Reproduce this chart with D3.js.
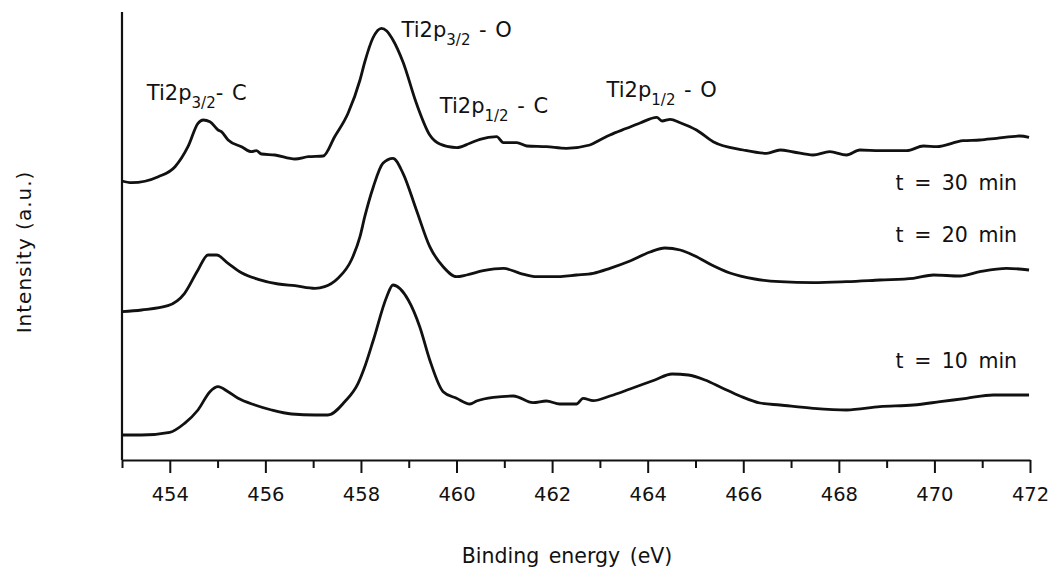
<!DOCTYPE html>
<html>
<head>
<meta charset="utf-8">
<script src="https://cdn.jsdelivr.net/npm/d3@7/dist/d3.min.js"></script>
<style>
  html, body { margin: 0; padding: 0; background: #fff; }
  svg text { font-family: "DejaVu Sans", Verdana, sans-serif; fill: #111; }
</style>
</head>
<body>
<svg id="chart" width="1057" height="575"></svg>
<script>
// Ti 2p XPS spectra after three treatment times (stacked, arbitrary intensity)
const energy30 = [453.00,453.20,453.76,454.11,454.38,454.59,454.70,454.84,455.01,455.08,455.22,455.50,455.71,455.81,455.92,456.20,456.62,456.90,457.21,457.45,457.73,457.98,458.08,458.25,458.43,458.54,458.67,458.88,459.16,459.44,459.65,460.00,460.28,460.49,460.84,460.98,461.26,461.47,461.88,462.30,462.79,463.00,463.21,463.56,463.84,464.19,464.30,464.47,464.68,465.02,465.37,466.00,466.49,466.77,467.05,467.46,467.81,468.16,468.44,468.86,469.42,469.77,470.05,470.60,470.95,471.30,471.79,471.98];
const counts30 = [279,277.3,283.3,293.3,313.3,336.7,340,338.3,330,328.3,320,313.3,308.3,309.3,306,305,301,303.3,304,323.3,346.7,380,398,422,431.7,429,420,398,356.7,325,316,312.3,316.7,320.7,323.3,317.3,317.3,314,313.3,311.7,315,320,325,331.7,337,342.7,339,340.7,337.3,330,318.3,310,306.7,310,308,305,308.3,305,310,309.3,309.3,314,313.3,319.3,320,321.7,324,322.7];

const energy20 = [453.00,453.41,453.96,454.31,454.59,454.80,454.98,455.22,455.50,455.85,456.27,456.62,457.04,457.24,457.52,457.80,457.98,458.08,458.26,458.46,458.67,458.88,459.16,459.44,459.72,460.00,460.21,460.56,460.98,461.33,461.68,462.02,462.51,462.86,463.21,463.63,464.05,464.36,464.68,464.99,465.34,465.72,466.24,466.77,467.46,468.16,468.86,469.56,469.98,470.53,470.95,471.51,471.98];
const counts20 = [148.3,150,154.3,166.7,190,205,205,196.7,187.3,180.7,176,174.3,171.7,173.3,181.7,200,223.3,243.3,273.3,296.7,301.7,286.7,250,213.3,193.3,183.3,185,189.3,191.7,186.7,183.3,183.3,185,186.7,191.7,199,208,212,210,204,195,187,181,178.3,177.3,178.3,180,181.7,185,184,188.3,191.7,190];

const energy10 = [453.00,453.41,454.00,454.31,454.59,454.84,455.01,455.22,455.43,455.78,456.13,456.55,457.04,457.31,457.66,457.94,458.08,458.26,458.54,458.67,458.99,459.23,459.44,459.72,460.00,460.28,460.42,460.77,461.19,461.60,461.88,462.16,462.51,462.65,462.86,463.21,463.63,464.15,464.51,464.85,465.20,465.56,465.93,466.35,466.77,467.46,468.16,468.86,469.56,470.12,470.67,471.23,471.98];
const counts10 = [25,25,27.7,36.7,50,68.3,73.3,68.3,61.7,55,50,46,45,45,58.3,76.7,93.3,120,163.3,175,160,133.3,100,68.3,61.7,56,59,62.7,64,57.3,59,56,56,61.7,59.3,64,71,80,86,85,80,72,64,57,55,51.7,50,53.3,55,58.3,61.7,65,65];

const seriesNames = ["t = 30 min", "t = 20 min", "t = 10 min"];
const xTicks = [454, 456, 458, 460, 462, 464, 466, 468, 470, 472];
const xMinorTicks = [453, 455, 457, 459, 461, 463, 465, 467, 469, 471];

// Peak annotations: [main text, subscript, suffix, energy, intensity]
const peakLabels = [
  ["Ti2p", "3/2", "- C", 453.52, 360],
  ["Ti2p", "3/2", " - O", 458.85, 423],
  ["Ti2p", "1/2", " - C", 459.65, 347],
  ["Ti2p", "1/2", " - O", 463.14, 363]
];
// Series label positions: [energy, intensity]
const seriesLabelPos = [[471.73, 270], [471.73, 218], [471.73, 92]];

const svg = d3.select("#chart");
const x = d3.scaleLinear().domain([453, 472]).range([122, 1030]);
const y = d3.scaleLinear().domain([0, 448]).range([460, 12]);

const series = [
  energy30.map((e, i) => [e, counts30[i]]),
  energy20.map((e, i) => [e, counts20[i]]),
  energy10.map((e, i) => [e, counts10[i]])
];

const line = d3.line().x(d => x(d[0])).y(d => y(d[1])).curve(d3.curveMonotoneX);

svg.append("g").selectAll("path").data(series).join("path")
  .attr("d", line)
  .attr("fill", "none")
  .attr("stroke", "#111")
  .attr("stroke-width", 2.8)
  .attr("stroke-linejoin", "round");

// Bottom axis: major ticks with labels, minor ticks without
const xAxis = svg.append("g").attr("transform", "translate(0,460)")
  .call(d3.axisBottom(x).tickValues(xTicks).tickSize(13).tickSizeOuter(0).tickFormat(d3.format("d")));
xAxis.select(".domain").attr("stroke", "#111").attr("stroke-width", 2.2);
xAxis.selectAll(".tick line").attr("stroke", "#111").attr("stroke-width", 2);
xAxis.selectAll(".tick text").attr("font-size", 19.5).attr("dy", 0).attr("y", 41)
  .attr("font-family", "DejaVu Sans, sans-serif").attr("fill", "#111");

const xMinor = svg.append("g").attr("transform", "translate(0,460)")
  .call(d3.axisBottom(x).tickValues(xMinorTicks).tickSize(8).tickFormat(""));
xMinor.select(".domain").remove();
xMinor.selectAll(".tick line").attr("stroke", "#111").attr("stroke-width", 2);

// Left axis line only
svg.append("line")
  .attr("x1", x(453)).attr("x2", x(453))
  .attr("y1", y(448)).attr("y2", y(0))
  .attr("stroke", "#111").attr("stroke-width", 2.2);

// Axis titles
svg.append("text")
  .attr("x", 567).attr("y", 563)
  .attr("text-anchor", "middle").attr("font-size", 20.5).attr("word-spacing", 3)
  .text("Binding energy (eV)");
svg.append("text")
  .attr("transform", "translate(31,252) rotate(-90)")
  .attr("text-anchor", "middle").attr("font-size", 20).attr("letter-spacing", 1)
  .text("Intensity (a.u.)");

// Peak annotations with subscripts
peakLabels.forEach(([main, sub, suffix, e, v]) => {
  const t = svg.append("text")
    .attr("x", x(e)).attr("y", y(v))
    .attr("font-size", 21).attr("word-spacing", 2);
  t.append("tspan").text(main);
  t.append("tspan").attr("font-size", 15).attr("dy", 8).text(sub);
  t.append("tspan").attr("dy", -8).text(suffix);
});

// Series labels
svg.append("g").selectAll("text").data(seriesNames).join("text")
  .attr("x", (d, i) => x(seriesLabelPos[i][0]))
  .attr("y", (d, i) => y(seriesLabelPos[i][1]))
  .attr("text-anchor", "end").attr("font-size", 20.5).attr("word-spacing", 4)
  .text(d => d);
</script>
</body>
</html>
